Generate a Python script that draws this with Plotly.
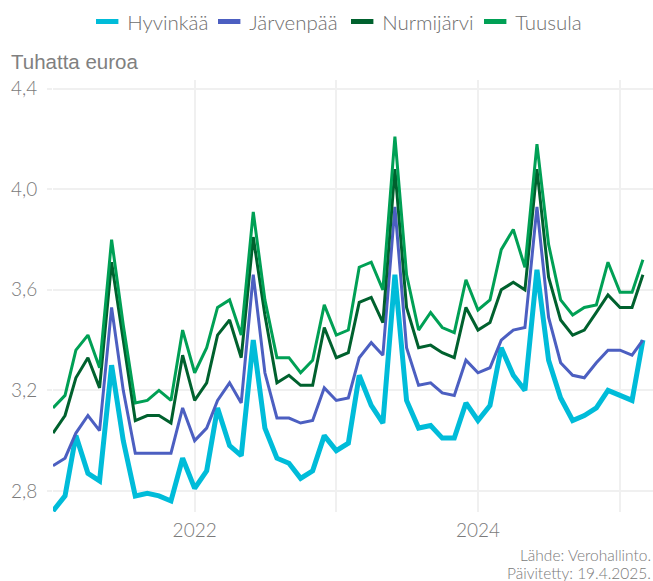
import pandas as pd
import plotly.graph_objects as go

# Monthly averages, January 2021 - March 2025 (thousand euros)
months = pd.date_range("2021-01-01", periods=51, freq="MS")

hyvinkaa = [
    2.72, 2.78, 3.02, 2.87, 2.84, 3.30, 3.00, 2.78, 2.79, 2.78, 2.76, 2.93,
    2.81, 2.88, 3.13, 2.98, 2.94, 3.40, 3.05, 2.93, 2.91, 2.85, 2.88, 3.02,
    2.96, 2.99, 3.26, 3.14, 3.07, 3.66, 3.16, 3.05, 3.06, 3.01, 3.01, 3.15,
    3.08, 3.14, 3.37, 3.26, 3.20, 3.68, 3.32, 3.17, 3.08, 3.10, 3.13, 3.20,
    3.18, 3.16, 3.40,
]
jarvenpaa = [
    2.90, 2.93, 3.03, 3.10, 3.04, 3.53, 3.20, 2.95, 2.95, 2.95, 2.95, 3.13,
    3.00, 3.05, 3.16, 3.23, 3.15, 3.66, 3.27, 3.09, 3.09, 3.07, 3.08, 3.21,
    3.16, 3.17, 3.33, 3.39, 3.34, 3.93, 3.37, 3.22, 3.23, 3.19, 3.18, 3.32,
    3.27, 3.29, 3.40, 3.44, 3.45, 3.93, 3.49, 3.31, 3.26, 3.25, 3.31, 3.36,
    3.36, 3.34, 3.40,
]
nurmijarvi = [
    3.03, 3.10, 3.25, 3.33, 3.21, 3.71, 3.40, 3.08, 3.10, 3.10, 3.07, 3.34,
    3.16, 3.23, 3.42, 3.48, 3.33, 3.81, 3.50, 3.23, 3.26, 3.22, 3.22, 3.45,
    3.33, 3.35, 3.55, 3.57, 3.47, 4.08, 3.53, 3.37, 3.38, 3.35, 3.33, 3.53,
    3.44, 3.47, 3.60, 3.63, 3.60, 4.08, 3.65, 3.48, 3.42, 3.44, 3.51, 3.58,
    3.53, 3.53, 3.66,
]
tuusula = [
    3.13, 3.18, 3.36, 3.42, 3.29, 3.80, 3.46, 3.15, 3.16, 3.20, 3.16, 3.44,
    3.27, 3.37, 3.53, 3.56, 3.42, 3.91, 3.56, 3.33, 3.33, 3.27, 3.32, 3.54,
    3.42, 3.44, 3.69, 3.71, 3.60, 4.21, 3.66, 3.44, 3.51, 3.45, 3.43, 3.64,
    3.52, 3.56, 3.76, 3.84, 3.69, 4.18, 3.78, 3.56, 3.50, 3.53, 3.54, 3.71,
    3.59, 3.59, 3.72,
]

series_names = ["Hyvinkää", "Järvenpää", "Nurmijärvi", "Tuusula"]
series_values = [hyvinkaa, jarvenpaa, nurmijarvi, tuusula]
series_colors = ["#00bcd9", "#4c5fc1", "#00612e", "#00a055"]
series_widths = [5, 3, 3, 3]
legend_entry_widths = [77, 88, 88, 70]

year_ticks = ["2021-01-01", "2022-01-01", "2023-01-01", "2024-01-01", "2025-01-01"]
year_labels = ["", "2022", "", "2024", ""]
y_ticks = [2.8, 3.2, 3.6, 4.0, 4.4]

GRID = "#f0f0f0"
TEXT = "#7a7a7a"
FONT = "Lato"

fig = go.Figure()
for name, vals, col, w in zip(series_names, series_values, series_colors, series_widths):
    fig.add_trace(go.Scatter(
        x=months, y=vals, name=name, mode="lines",
        line=dict(color=col, width=w, shape="linear"),
        legendgroup=name, showlegend=False,
    ))

# Legend keys: short thick bars
for name, col, ew in zip(series_names, series_colors, legend_entry_widths):
    fig.add_trace(go.Scatter(
        x=[None], y=[None], name=name, mode="markers",
        marker=dict(symbol="line-ew", size=16, color=col,
                    line=dict(color=col, width=5)),
        legendgroup=name, showlegend=True, legendwidth=ew,
    ))

fig.update_layout(
    width=653, height=581,
    margin=dict(l=53, r=0, t=80, b=69),
    paper_bgcolor="white", plot_bgcolor="white",
    separators=", ",
    legend=dict(
        orientation="h", x=0.057, xanchor="left", y=1.135, yanchor="middle",
        font=dict(family=FONT, size=20.5, color="#6e6e6e", weight=300),
        tracegroupgap=0, itemsizing="trace",
    ),
    xaxis=dict(
        range=["2021-01-01", "2025-03-27"],
        tickvals=year_ticks, ticktext=year_labels,
        showgrid=True, gridcolor=GRID, gridwidth=2,
        zeroline=False, showline=False, ticks="",
        tickfont=dict(family=FONT, size=19, color=TEXT, weight=300),
        ticklabelstandoff=5,
    ),
    yaxis=dict(
        range=[2.716, 4.435],
        tickvals=y_ticks, tickformat=".1f",
        showgrid=True, gridcolor=GRID, gridwidth=2,
        zeroline=False, showline=False,
        ticks="outside", ticklen=5, tickcolor=GRID, tickwidth=2,
        tickfont=dict(family=FONT, size=19, color=TEXT, weight=300),
        ticklabelstandoff=6,
    ),
    annotations=[
        dict(text="Tuhatta euroa", xref="paper", yref="paper",
             x=-0.073, y=1.0417, xanchor="left", yanchor="middle",
             showarrow=False,
             font=dict(family="Liberation Sans", size=20.5, color="#808080")),
        dict(text="Lähde: Verohallinto.", xref="paper", yref="paper",
             x=1.0, y=-0.0995, xanchor="right", yanchor="middle",
             showarrow=False,
             font=dict(family=FONT, size=15.5, color=TEXT, weight=300)),
        dict(text="Päivitetty: 19.4.2025.", xref="paper", yref="paper",
             x=1.0, y=-0.141, xanchor="right", yanchor="middle",
             showarrow=False,
             font=dict(family=FONT, size=15.5, color=TEXT, weight=300)),
    ],
)

fig.write_html("out.html")
